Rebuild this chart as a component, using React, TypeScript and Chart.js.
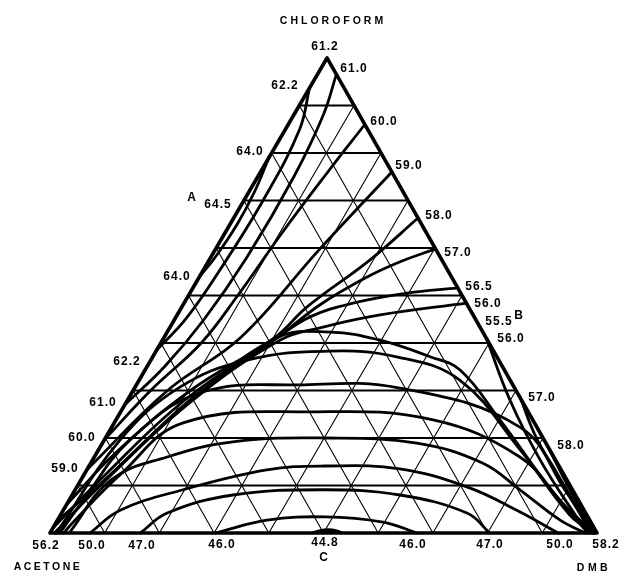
import React, { useEffect, useRef } from "react";
import { Chart, registerables } from "chart.js";
Chart.register(...registerables);

// Compositions as [chloroform %, DMB %]; acetone is the remainder.
const GRID_STEPS = [10, 20, 30, 40, 50, 60, 70, 80, 90];

// isotherms from the upper right edge towards the acetone corner
const T61 = [[96.4, 3.5], [88, 5.4], [75, 6.6], [58, 6.6], [45, 5.4], [35, 3.2], [27, 0]];
const T60 = [[86, 14], [76, 12.3], [63, 10.4], [50, 9.0], [40, 7.4], [30, 3.2], [19.6, 0]];
const T59 = [[76, 24], [59.6, 19.0], [41.1, 14.0], [30, 6.3], [13.3, 0]];
const T58 = [[66.3, 33.7], [57.5, 29.4], [47.6, 22.9], [41.1, 20.2], [30, 10.5], [17, 3.5], [6, 0]];
const T57U = [[59.8, 40.2], [57.1, 35.1], [53.9, 30.7], [48, 25.0], [41.1, 20.7], [28, 11.4], [12.2, 4.8], [2.5, 0]];
const T565 = [[51.6, 48.4], [50.5, 39.7], [48.4, 30.9], [45.5, 24.5], [41.1, 20.7], [28, 10.5], [11.2, 3.5], [1, 0]];
const T56U = [[48.4, 51.6], [45.9, 37.1], [43.2, 27.5], [40.6, 21.5], [28, 12], [10.1, 4.0], [0, 1]];
// loops around the maximum azeotrope A
const T622 = [[93.7, 0], [85, 2.6], [70, 3.5], [55, 3], [45, 2], [38.5, 0]];
const T640 = [[79, 0], [72, 1], [65, 1.3], [58, 0.8], [54, 0]];
// from the right edge below B towards the DMB corner
const T56L = [[40.8, 59.2], [28, 69.9], [15.4, 81.8], [3.8, 94.1], [0, 98.5]];
const T57L = [[28.4, 71.6], [20, 78.8], [12.6, 86.3], [5, 94], [0, 99.3]];
const T58L = [[18.3, 81.7], [8, 91.5], [0, 99.6]];
// arcs around the minimum azeotrope C
const T448 = [[0, 47.8], [0.5, 48.8], [0.8, 50.5], [0.5, 52.3], [0, 53.6]];
const T46 = [[0, 30.2], [2.7, 38.3], [3.4, 48.6], [2.3, 59.7], [0, 67.1]];
const T47 = [[0, 16.5], [4.2, 19.3], [8, 29.4], [9.1, 45.7], [8, 59.9], [4.2, 74.1], [0, 80.4]];
const T50 = [[0, 7.3], [4.8, 10.4], [9.1, 19.7], [13.3, 32.9], [14.1, 43.1], [13.5, 57.1], [9.7, 71.3], [4.8, 82.9], [0, 92.9]];
const T52 = [[0, 3.5], [11.2, 5.5], [16, 13.3], [19.2, 23.7], [20, 40.1], [18.9, 57.5], [14.7, 71.7], [9.1, 81.3], [2.7, 91.9], [0, 97.8]];
const T54 = [[0, 2.5], [2.7, 3.2], [12.2, 6.6], [23.2, 12.6], [25.5, 35.9], [23.8, 58.0], [16, 77.8], [6.9, 89.7], [0, 98.3]];
const T55 = [[0, 1.8], [5.9, 2.5], [19.6, 4.7], [29.5, 12.5], [31.2, 29.9], [30.5, 48.5], [22.3, 74.6], [9.1, 89.5], [0, 99]];
const T555 = [[0, 1.2], [19.6, 2.9], [30.7, 8.2], [36.4, 17.6], [38.3, 31.8], [37.1, 44.6], [32.2, 58.6], [17.5, 77.1], [3.8, 93.1], [0, 99.5]];
const T558 = [[0, 0.8], [10.1, 4.2], [28, 11.8], [41.1, 20.7], [42.3, 29.8], [40.6, 39.8], [37.1, 50.7], [34.3, 57.6], [23.8, 70.2], [6.9, 89.7], [0, 99.6]];

const ISOTHERMS = [T61, T60, T59, T58, T57U, T565, T56U, T622, T640, T56L, T57L, T58L,
  T46, T47, T50, T52, T54, T55, T555, T558];

const TITLE_TOP = "CHLOROFORM";
const TITLE_LEFT = "ACETONE";
const TITLE_RIGHT = "DMB";
const VALUE_LABELS = ["61.2", "61.0", "62.2", "60.0", "64.0", "59.0", "A", "64.5", "58.0", "57.0", "64.0",
  "56.5", "56.0", "55.5", "B", "56.0", "62.2", "57.0", "61.0", "60.0", "58.0", "59.0",
  "56.2", "50.0", "47.0", "46.0", "44.8", "C", "46.0", "47.0", "50.0", "58.2"];
// label placement (page pixels)
const VALUE_LABEL_POS = [[325, 47], [354, 69], [285, 86], [384, 122], [250, 152], [409, 166], [192, 198], [218, 205],
  [439, 216], [458, 253], [177, 277], [479, 287], [488, 304], [499, 322], [519, 316], [511, 339], [127, 362],
  [542, 398], [103, 403], [82, 438], [571, 446], [65, 469],
  [46, 546], [92, 546], [142, 546], [222, 545], [325, 543], [324, 558], [413, 545], [490, 545], [560, 545], [606, 545]];

// geometry of the drawn triangle (shape ratio of the original print)
const APEX_SHIFT = 0.5064;
const HEIGHT_RATIO = 0.8684;

function toXY(p: number[]) {
  const [c, d] = p;
  return { x: d + APEX_SHIFT * c, y: HEIGHT_RATIO * c };
}

export default function App() {
  const ref = useRef<HTMLCanvasElement | null>(null);
  useEffect(() => {
    document.body.style.margin = "0";
    const canvas = ref.current!;
    const datasets: any[] = [];
    const line = (pts: number[][], w: number, tension = 0, fill: any = false) =>
      datasets.push({
        data: pts.map(toXY),
        showLine: true,
        pointRadius: 0,
        borderColor: "#000",
        backgroundColor: "#000",
        borderWidth: w,
        tension,
        borderCapStyle: "round",
        borderJoinStyle: "round",
        fill,
      });
    GRID_STEPS.forEach((s) => {
      line([[s, 0], [s, 100 - s]], 2);
      line([[0, s], [100 - s, s]], 1.1);
      line([[0, 100 - s], [100 - s, 0]], 1.1);
    });
    ISOTHERMS.forEach((c) => line(c, 2.8, 0.4));
    line(T448, 2, 0.4, "origin");
    line([[0, 0], [0, 100], [100, 0], [0, 0]], 3.6);

    const labels = {
      id: "labels",
      afterDraw(chart: any) {
        const ctx = chart.ctx as CanvasRenderingContext2D;
        ctx.save();
        ctx.fillStyle = "#000";
        ctx.textAlign = "center";
        ctx.textBaseline = "middle";
        const put = (t: string, x: number, y: number, font: string, sp: string) => {
          ctx.font = font;
          (ctx as any).letterSpacing = sp;
          ctx.fillText(t, x, y);
        };
        put(TITLE_TOP, 333, 21, "bold 10.5px 'Liberation Sans'", "3px");
        put(TITLE_LEFT, 48, 567, "bold 10.5px 'Liberation Sans'", "2.5px");
        put(TITLE_RIGHT, 594, 568, "bold 10.5px 'Liberation Sans'", "3.5px");
        VALUE_LABELS.forEach((t, i) => {
          const [x, y] = VALUE_LABEL_POS[i];
          put(t, x, y, "bold 12px 'Liberation Sans'", "1px");
        });
        ctx.restore();
      },
    };

    const chart = new Chart(canvas, {
      type: "scatter",
      data: { datasets },
      options: {
        animation: false,
        responsive: false,
        maintainAspectRatio: false,
        layout: { padding: 0 },
        events: [],
        plugins: { legend: { display: false }, tooltip: { enabled: false } },
        scales: {
          x: { type: "linear", display: false, min: -50 / 5.47, max: 571 / 5.47 },
          y: { type: "linear", display: false, min: 533 / 5.47 - 574 / 5.47, max: 533 / 5.47 },
        },
      },
      plugins: [labels],
    });
    return () => chart.destroy();
  }, []);
  return (
    <div style={{ position: "absolute", left: 0, top: 0, width: 621, height: 574, background: "#fff" }}>
      <canvas ref={ref} width={621} height={574} />
    </div>
  );
}
